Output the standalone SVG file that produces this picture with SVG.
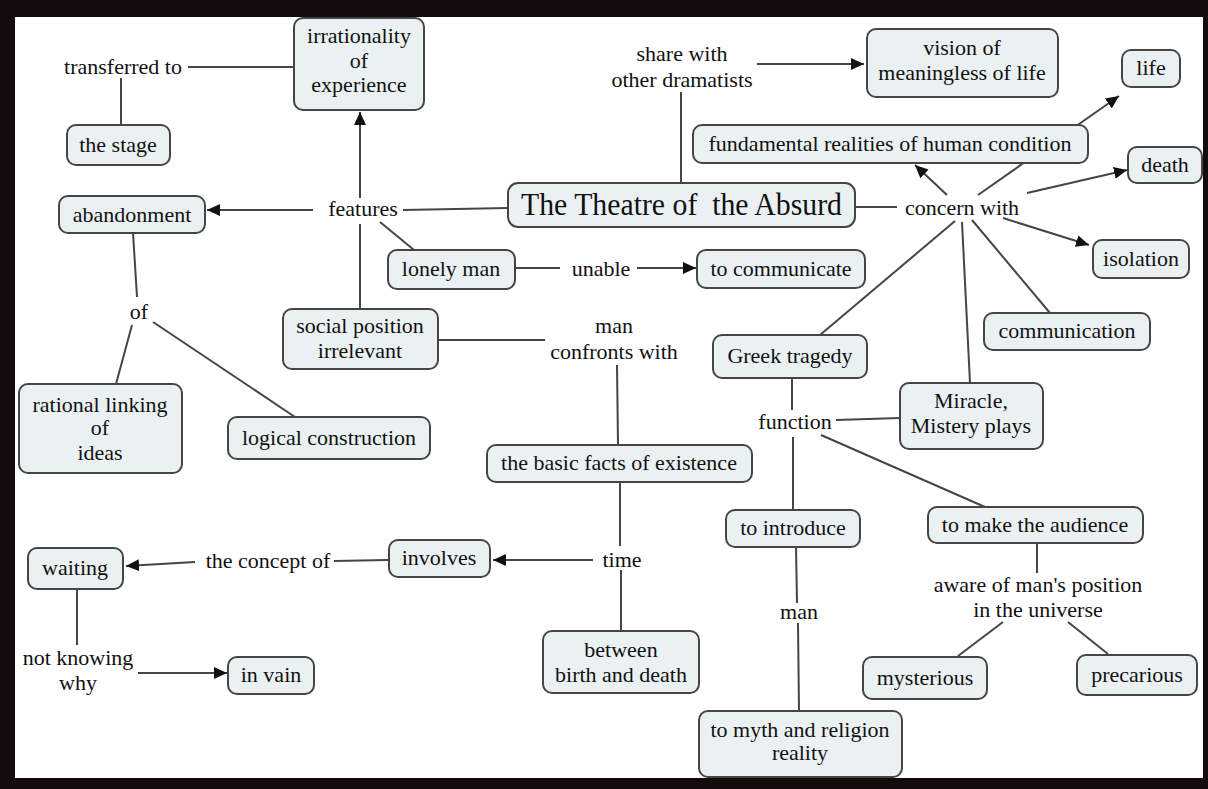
<svg xmlns="http://www.w3.org/2000/svg" width="1208" height="789" viewBox="0 0 1208 789">
<defs>
<style>
.n rect{fill:#ebf1f3;stroke:#454545;stroke-width:2}
text{font-family:"Liberation Serif","Times New Roman",serif;font-size:22px;fill:#111;text-anchor:middle}
.c line{stroke:#454545;stroke-width:2}
.a{marker-end:url(#ah)}
</style>
<marker id="ah" markerUnits="userSpaceOnUse" markerWidth="14" markerHeight="12" refX="13" refY="6" orient="auto">
<path d="M0,0 L13,6 L0,12 Z" fill="#111"/>
</marker>
</defs>
<rect x="0" y="0" width="1208" height="789" fill="#140c0c"/>
<rect x="15" y="17" width="1188" height="761" fill="#ffffff"/>

<g id="connectors" class="c">
<line x1="188" y1="67" x2="294" y2="67"/>
<line x1="121" y1="78" x2="121" y2="125"/>
<line class="a" x1="360" y1="198" x2="360" y2="112"/>
<line x1="360" y1="224" x2="360" y2="309"/>
<line class="a" x1="313" y1="210" x2="207" y2="210"/>
<line x1="403" y1="210" x2="508" y2="208"/>
<line x1="380" y1="222" x2="414" y2="250"/>
<line x1="515" y1="268" x2="560" y2="268"/>
<line class="a" x1="637" y1="268" x2="696" y2="268"/>
<line x1="438" y1="340" x2="545" y2="340"/>
<line x1="617" y1="365" x2="618" y2="445"/>
<line x1="620" y1="482" x2="620" y2="546"/>
<line x1="621" y1="570" x2="621" y2="631"/>
<line class="a" x1="593" y1="560" x2="493" y2="560"/>
<line x1="388" y1="560" x2="334" y2="561"/>
<line class="a" x1="195" y1="562" x2="126" y2="566"/>
<line x1="77" y1="589" x2="77" y2="645"/>
<line class="a" x1="138" y1="673" x2="227" y2="673"/>
<line x1="133" y1="233" x2="137" y2="297"/>
<line x1="132" y1="325" x2="116" y2="384"/>
<line x1="153" y1="322" x2="295" y2="417"/>
<line class="a" x1="757" y1="64" x2="864" y2="64"/>
<line x1="681" y1="92" x2="681" y2="183"/>
<line x1="855" y1="207" x2="897" y2="207"/>
<line class="a" x1="947" y1="195" x2="915" y2="165"/>
<line class="a" x1="978" y1="195" x2="1119" y2="96"/>
<line class="a" x1="1027" y1="193" x2="1127" y2="170"/>
<line class="a" x1="1003" y1="218" x2="1089" y2="245"/>
<line x1="955" y1="221" x2="820" y2="335"/>
<line x1="962" y1="222" x2="970" y2="383"/>
<line x1="972" y1="220" x2="1050" y2="313"/>
<line x1="792" y1="378" x2="792" y2="410"/>
<line x1="793" y1="437" x2="793" y2="510"/>
<line x1="836" y1="420" x2="900" y2="418"/>
<line x1="821" y1="435" x2="985" y2="507"/>
<line x1="796" y1="547" x2="797" y2="603"/>
<line x1="798" y1="623" x2="799" y2="711"/>
<line x1="1037" y1="543" x2="1037" y2="573"/>
<line x1="1003" y1="622" x2="958" y2="656"/>
<line x1="1068" y1="622" x2="1108" y2="654"/>
</g>

<g id="n-irrationality" class="n"><rect x="294" y="18" width="130" height="92" rx="9"/><text x="359" y="43">irrationality</text><text x="359" y="68">of</text><text x="359" y="92">experience</text></g>
<g id="n-stage" class="n"><rect x="67" y="125" width="103" height="40" rx="9"/><text x="118" y="152">the stage</text></g>
<g id="n-abandonment" class="n"><rect x="59" y="196" width="146" height="37" rx="9"/><text x="132" y="222">abandonment</text></g>
<g id="n-theatre" class="n"><rect x="508" y="183" width="347" height="44" rx="10"/><text x="681.5" y="215" style="font-size:31px" xml:space="preserve" textLength="321" lengthAdjust="spacingAndGlyphs">The Theatre of  the Absurd</text></g>
<g id="n-vision" class="n"><rect x="867" y="29" width="191" height="68" rx="9"/><text x="962" y="55">vision of</text><text x="962" y="80">meaningless of life</text></g>
<g id="n-life" class="n"><rect x="1122" y="50" width="58" height="37" rx="9"/><text x="1151" y="75">life</text></g>
<g id="n-fundamental" class="n"><rect x="693" y="125" width="395" height="38" rx="9"/><text x="890" y="151">fundamental realities of human condition</text></g>
<g id="n-death" class="n"><rect x="1128" y="147" width="74" height="36" rx="9"/><text x="1165" y="172">death</text></g>
<g id="n-isolation" class="n"><rect x="1093" y="240" width="96" height="38" rx="9"/><text x="1141" y="266">isolation</text></g>
<g id="n-communication" class="n"><rect x="984" y="313" width="166" height="37" rx="9"/><text x="1067" y="338">communication</text></g>
<g id="n-miracle" class="n"><rect x="900" y="383" width="143" height="66" rx="9"/><text x="971" y="408">Miracle,</text><text x="971" y="433">Mistery plays</text></g>
<g id="n-greek" class="n"><rect x="713" y="335" width="154" height="43" rx="9"/><text x="790" y="363">Greek tragedy</text></g>
<g id="n-tocommunicate" class="n"><rect x="697" y="250" width="168" height="38" rx="9"/><text x="781" y="276">to communicate</text></g>
<g id="n-lonely" class="n"><rect x="388" y="250" width="127" height="39" rx="9"/><text x="451" y="276">lonely man</text></g>
<g id="n-social" class="n"><rect x="283" y="309" width="155" height="60" rx="9"/><text x="360" y="333">social position</text><text x="360" y="358">irrelevant</text></g>
<g id="n-rational" class="n"><rect x="19" y="384" width="163" height="89" rx="9"/><text x="100" y="412">rational linking</text><text x="100" y="435">of</text><text x="100" y="460">ideas</text></g>
<g id="n-logical" class="n"><rect x="228" y="417" width="202" height="42" rx="9"/><text x="329" y="445">logical construction</text></g>
<g id="n-basic" class="n"><rect x="487" y="445" width="265" height="37" rx="9"/><text x="619" y="470">the basic facts of existence</text></g>
<g id="n-introduce" class="n"><rect x="726" y="510" width="134" height="37" rx="9"/><text x="793" y="535">to introduce</text></g>
<g id="n-audience" class="n"><rect x="928" y="507" width="215" height="36" rx="9"/><text x="1035" y="532">to make the audience</text></g>
<g id="n-involves" class="n"><rect x="389" y="540" width="101" height="37" rx="9"/><text x="439" y="565">involves</text></g>
<g id="n-waiting" class="n"><rect x="28" y="548" width="95" height="41" rx="9"/><text x="75" y="575">waiting</text></g>
<g id="n-invain" class="n"><rect x="228" y="657" width="86" height="37" rx="9"/><text x="271" y="682">in vain</text></g>
<g id="n-between" class="n"><rect x="543" y="631" width="156" height="62" rx="9"/><text x="621" y="657">between</text><text x="621" y="682">birth and death</text></g>
<g id="n-myth" class="n"><rect x="699" y="711" width="203" height="66" rx="9"/><text x="800" y="737">to myth and religion</text><text x="800" y="760">reality</text></g>
<g id="n-mysterious" class="n"><rect x="863" y="657" width="124" height="42" rx="9"/><text x="925" y="685">mysterious</text></g>
<g id="n-precarious" class="n"><rect x="1077" y="655" width="120" height="40" rx="9"/><text x="1137" y="682">precarious</text></g>

<g id="labels">
<text x="123" y="74">transferred to</text>
<text x="363" y="216">features</text>
<text x="682" y="61">share with</text>
<text x="682" y="87">other dramatists</text>
<text x="962" y="215">concern with</text>
<text x="601" y="276">unable</text>
<text x="614" y="333">man</text>
<text x="614" y="359">confronts with</text>
<text x="139" y="319">of</text>
<text x="795" y="429">function</text>
<text x="622" y="567">time</text>
<text x="268" y="568">the concept of</text>
<text x="78" y="665">not knowing</text>
<text x="78" y="690">why</text>
<text x="799" y="619">man</text>
<text x="1038" y="592">aware of man's position</text>
<text x="1038" y="617">in the universe</text>
</g>
</svg>
